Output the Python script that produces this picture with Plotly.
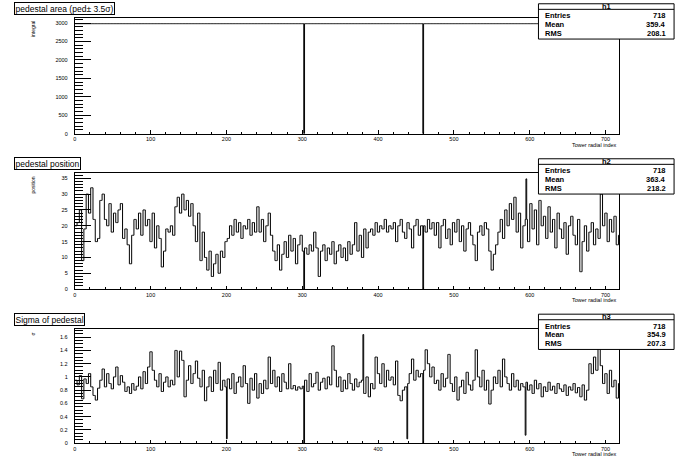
import plotly.graph_objects as go

# ---------------- data ----------------
tower_count = 718

# panel 1: pedestal area, run-length encoded (start tower, value)
area_run_starts = [0, 302, 303, 459, 460]
area_run_values = [2985, 0, 2985, 0, 2985]

# panel 2: pedestal position, read in groups of 3 towers
position_groups = [
    20, 21, 25, 9, 19, 30, 24, 32, 22, 15, 16, 28, 30, 22,
    20, 27, 18, 24, 21, 25, 27, 16, 19, 14, 8, 17,
    22, 19, 24, 17, 25, 20, 22, 15, 24, 13, 20, 16, 7, 12,
    19, 18, 20, 17, 26, 29, 24, 30, 25, 28, 23, 27, 20,
    15, 24, 9, 18, 10, 6, 12, 4, 8, 11, 5, 12, 10, 15, 16,
    20, 17, 22, 18, 21, 16, 20, 19, 22, 17, 21, 18,
    26, 18, 22, 15, 20, 24, 17, 12, 9, 14, 6, 11, 15, 10,
    17, 12, 16, 8, 14, 17, 12,
    13, 11, 14, 12, 18, 13, 4,
    12, 14, 9, 13, 11, 15, 8, 12, 14, 10, 13, 9, 15, 11,
    14, 21, 12, 17, 10, 19, 13, 18,
    19, 17, 21, 18, 20, 19, 22, 18, 20,
    19, 21, 15, 20, 22, 18, 16, 21, 19, 13, 20, 22, 17, 20,
    20, 18, 22, 19, 21,
    17, 21, 13, 20, 22, 16, 19, 14, 21,
    18, 22, 15, 20, 12, 19, 21, 17, 14, 9,
    18, 20, 17, 21, 19, 12, 6, 11, 14,
    18, 22, 16, 25, 20, 27, 22, 29,
    18, 24, 13, 20, 22, 15, 27, 19,
    25, 14, 28, 20, 23, 16, 26,
    18, 22, 13, 24, 19, 16, 21, 11, 20, 23, 17, 14, 22,
    5.5, 15, 20, 12, 18, 21, 14, 19, 16,
    30, 20, 24, 15, 22, 18, 23, 14, 17,
]
position_single_bins = [302, 459, 595]
position_single_values = [0, 0, 34.8]

# panel 3: sigma of pedestal, read in groups of 3 towers
sigma_groups = [
    0.95, 0.88, 1.02, 0.67, 0.97, 0.9, 1.05, 0.85,
    0.72, 0.65, 0.83,
    0.95, 1.12, 0.85, 1.05, 0.9, 0.82, 1.0, 1.15, 0.88, 1.02, 0.92,
    0.78, 0.85, 0.75, 0.9, 0.8, 0.86,
    1.0, 0.82, 1.08, 0.9, 1.15, 1.38,
    1.1, 0.95, 0.85, 1.05, 0.78, 0.92, 1.0, 0.85, 0.95,
    0.88, 1.4, 1.0, 1.39, 1.25, 0.7,
    0.95, 1.17, 0.9, 1.05, 1.24, 0.98, 0.85, 1.1,
    0.64, 0.85,
    1.0, 0.78, 1.1, 0.9, 1.22, 0.8, 0.95, 0.85,
    0.97, 0.82, 1.05, 0.75, 0.92, 1.0, 0.85, 1.17, 0.9, 0.6, 0.98, 0.8, 1.05,
    0.68, 0.9, 0.75, 0.95, 0.82, 1.3,
    0.9, 1.1, 0.85, 1.0, 0.78, 1.05, 0.92, 0.82, 1.2,
    0.82, 0.87, 0.8, 0.85, 0.82, 0.86,
    0.95, 0.78, 1.05, 0.85, 0.9, 1.07, 0.8, 0.92, 0.98, 0.82, 1.0, 0.88,
    1.47,
    1.1, 0.85, 1.0, 0.78, 0.95, 0.82, 1.05, 0.9, 0.8, 0.97, 0.85, 0.92,
    0.95, 0.75, 1.0, 0.7, 0.9, 0.82, 1.3,
    1.05, 0.9, 1.2, 0.85, 1.1, 0.95, 1.0, 0.88, 1.24,
    0.72, 0.64, 0.8, 0.85,
    0.9, 1.05, 1.27, 0.95, 1.1, 1.0, 1.05,
    1.1, 1.41, 1.2, 1.0, 1.15, 0.9,
    0.95, 0.8, 1.05, 0.85, 0.98, 1.34,
    0.9, 0.78, 1.0, 0.65, 0.85, 0.95, 0.75, 1.07, 0.88, 0.8, 0.95, 1.41,
    1.0, 0.85, 1.1, 0.8, 0.95, 0.59,
    0.8, 1.0, 0.9, 1.1, 0.85, 1.27,
    1.0, 0.9, 0.8, 1.05, 0.85, 0.95, 0.8, 0.9, 0.85,
    0.92, 0.8, 0.88, 0.75, 0.95, 0.82, 0.9, 0.7, 0.85, 0.78,
    0.92, 0.8, 0.86, 0.75, 0.9, 0.82, 0.78, 0.88, 0.72, 0.85,
    0.8, 0.9, 0.76, 0.84, 0.7, 0.88, 0.65,
    0.8, 1.2, 1.05, 1.3, 1.1, 1.44,
    1.17, 0.9, 1.05, 0.75, 1.1, 0.85, 0.95, 0.68, 0.9,
]
sigma_single_bins = [200, 302, 380, 438, 459, 594]
sigma_single_values = [0.065, 0, 1.64, 0.065, 0, 0.12]

hist_names = ["h1", "h2", "h3"]
hist_entries = [718, 718, 718]
hist_mean = [359.4, 363.4, 354.9]
hist_rms = [208.1, 218.2, 207.3]
panel_titles = ["pedestal area (ped\u00b1 3.5\u03c3)", "pedestal position", "Sigma of pedestal"]
y_titles = ["integral", "position", "\u03c3"]
x_title = "Tower radial index"

y_max = [3134, 36.6, 1.73]
y_major = [500, 5, 0.2]
y_minor = [100, 1, 0.05]

# ---------------- build per-tower contents ----------------
def from_runs(starts, values, n):
    out = []
    for k, s in enumerate(starts):
        e = starts[k + 1] if k + 1 < len(starts) else n
        out.extend([values[k]] * (e - s))
    return out[:n]

def from_groups(groups, single_bins, single_values, n, width=3):
    out = []
    for v in groups:
        out.extend([v] * width)
    out = out[:n]
    while len(out) < n:
        out.append(out[-1])
    for b, v in zip(single_bins, single_values):
        out[b] = v
    return out

contents = [
    from_runs(area_run_starts, area_run_values, tower_count),
    from_groups(position_groups, position_single_bins, position_single_values, tower_count),
    from_groups(sigma_groups, sigma_single_bins, sigma_single_values, tower_count),
]

# ---------------- layout geometry (pixels) ----------------
W, H = 696, 468
FL, FR = 73, 619
frames = [(18.3, 134.5), (174.3, 291.0), (330.7, 446.0)]

def px(x):
    return x / W

def py(y):
    return 1 - y / H

FONT = "Liberation Sans, Arial, Helvetica, sans-serif"

fig = go.Figure()
shapes = []
annotations = []

for i in range(3):
    n = "" if i == 0 else str(i + 1)
    vals = contents[i]
    xs = list(range(tower_count + 1))
    ys = vals + [vals[-1]]
    fig.add_trace(go.Scatter(
        x=xs, y=ys, mode="lines", line=dict(color="black", width=1, shape="hv"),
        xaxis="x" + n, yaxis="y" + n, hoverinfo="skip", showlegend=False,
    ))
    top, bot = frames[i]
    fig.layout["xaxis" + n] = dict(
        domain=[px(FL), px(FR)], anchor="y" + n, range=[0, tower_count],
        showgrid=False, zeroline=False, showline=True, mirror=True,
        linecolor="black", linewidth=1,
        ticks="inside", ticklen=3.5, tickwidth=1, tickcolor="black",
        dtick=100, tick0=0,
        minor=dict(ticks="inside", ticklen=2, dtick=20, tickcolor="black", tickwidth=1),
        tickfont=dict(family=FONT, size=5.5, color="black"),
        ticklabelstandoff=0,
    )
    fig.layout["yaxis" + n] = dict(
        domain=[py(bot), py(top)], anchor="x" + n, range=[0, y_max[i]],
        showgrid=False, zeroline=False, showline=True, mirror=True,
        linecolor="black", linewidth=1,
        ticks="inside", ticklen=16, tickwidth=1, tickcolor="black",
        dtick=y_major[i], tick0=0,
        minor=dict(ticks="inside", ticklen=8, dtick=y_minor[i], tickcolor="black", tickwidth=1),
        tickfont=dict(family=FONT, size=5.5, color="black"),
        exponentformat="none", separatethousands=False,
        ticklabelstandoff=5,
    )

    # panel title box
    annotations.append(dict(
        xref="paper", yref="paper", x=px(12.5), y=py(top - 9.3),
        xanchor="left", yanchor="middle", text=panel_titles[i], showarrow=False,
        font=dict(family=FONT, size=8.5, color="black"),
        bgcolor="white", bordercolor="black", borderwidth=1, borderpad=0.5,
    ))
    # y title
    annotations.append(dict(
        xref="paper", yref="paper", x=px(31), y=py(top + 1),
        xanchor="center", yanchor="top", text=y_titles[i], textangle=-90, showarrow=False,
        font=dict(family=FONT, size=5, color="black"),
    ))
    # x title
    annotations.append(dict(
        xref="paper", yref="paper", x=px(FR), y=py(bot + 11),
        xanchor="right", yanchor="middle", text=x_title, showarrow=False,
        font=dict(family=FONT, size=5.5, color="black"),
    ))

    # stats box
    bx0, bx1 = 538, 674
    by0, by1 = top - 14.5, top + 21
    shapes.append(dict(type="rect", xref="paper", yref="paper",
                       x0=px(bx0), x1=px(bx1), y0=py(by1), y1=py(by0),
                       line=dict(color="black", width=1), fillcolor="white", layer="above"))
    shapes.append(dict(type="line", xref="paper", yref="paper",
                       x0=px(bx0), x1=px(bx1), y0=py(by0 + 5.6), y1=py(by0 + 5.6),
                       line=dict(color="black", width=1), layer="above"))
    annotations.append(dict(
        xref="paper", yref="paper", x=px((bx0 + bx1) / 2), y=py(by0 + 2.8),
        xanchor="center", yanchor="middle", text="<b>" + hist_names[i] + "</b>", showarrow=False,
        font=dict(family=FONT, size=7.5, color="black"),
    ))
    rows = [("Entries", str(hist_entries[i])),
            ("Mean", "%.1f" % hist_mean[i]),
            ("RMS", "%.1f" % hist_rms[i])]
    for r, (lab, val) in enumerate(rows):
        yy = by0 + 12.2 + r * 8.7
        annotations.append(dict(
            xref="paper", yref="paper", x=px(543), y=py(yy),
            xanchor="left", yanchor="middle", text="<b>" + lab + "</b>", showarrow=False,
            font=dict(family=FONT, size=7.5, color="black"),
        ))
        annotations.append(dict(
            xref="paper", yref="paper", x=px(668), y=py(yy),
            xanchor="right", yanchor="middle", text="<b>" + val + "</b>", showarrow=False,
            font=dict(family=FONT, size=7.5, color="black"),
        ))

fig.update_layout(
    width=W, height=H, margin=dict(l=0, r=0, t=0, b=0),
    paper_bgcolor="white", plot_bgcolor="white",
    shapes=shapes, annotations=annotations, showlegend=False,
)

fig.write_html(
    "out.html",
    config={"displayModeBar": False},
    post_script="document.body.style.margin='0px';document.body.style.overflow='hidden';",
)
